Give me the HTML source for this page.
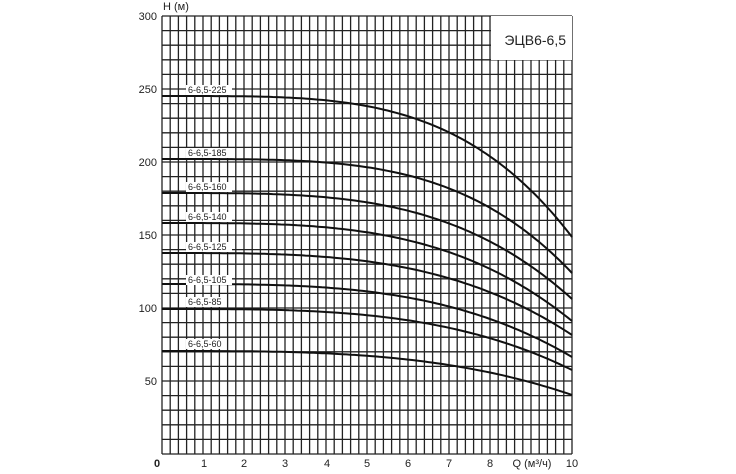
<!DOCTYPE html>
<html><head><meta charset="utf-8"><style>
html,body{margin:0;padding:0;background:#fff;}
svg{display:block;font-family:"Liberation Sans",sans-serif;}
</style></head><body>
<svg id="s" width="736" height="474" viewBox="0 0 736 474" xmlns="http://www.w3.org/2000/svg">
<rect width="736" height="474" fill="#fff"/>
<g id="grid" stroke="#222" stroke-width="1.3"></g>
<rect x="491" y="16" width="81" height="44" fill="#fff"/>
<text x="566" y="45" font-size="14" text-anchor="end" fill="#222">ЭЦВ6-6,5</text>
<g id="curves" fill="none" stroke="#111" stroke-width="2"></g>
<g id="labels" font-size="9" fill="#222"></g>
<g font-size="11" fill="#222" text-anchor="end">
<text x="157" y="20">300</text><text x="157" y="93">250</text><text x="157" y="166">200</text>
<text x="157" y="239">150</text><text x="157" y="312">100</text><text x="157" y="385">50</text>
</g>
<text x="163" y="10" font-size="11" fill="#222">H (м)</text>
<g font-size="11" fill="#222" text-anchor="middle">
<text x="157" y="467" font-weight="bold">0</text><text x="204" y="467">1</text><text x="244" y="467">2</text>
<text x="285" y="467">3</text><text x="327" y="467">4</text><text x="367" y="467">5</text>
<text x="408" y="467">6</text><text x="449" y="467">7</text><text x="490" y="467">8</text>
<text x="532" y="467">Q (м³/ч)</text><text x="572" y="467">10</text>
</g>
</svg>
<script>
var NS="http://www.w3.org/2000/svg";
var g=document.getElementById('grid');
function ln(x1,y1,x2,y2){var l=document.createElementNS(NS,'line');l.setAttribute('x1',x1);l.setAttribute('y1',y1);l.setAttribute('x2',x2);l.setAttribute('y2',y2);g.appendChild(l);}
var L=162,R=572,T=16,B=454;
for(var i=0;i<=50;i++){var x=L+(R-L)*i/50;ln(x,T,x,B);}
for(var j=0;j<=30;j++){var y=T+(B-T)*j/30;ln(L,y,R,y);}
function px(q){return L+q*(R-L)/10;}
// [startY, endY, label, labelY, exponent]
var c=[[96,237,'225',90,3.8],[159,273,'185',153,3.8],[193,299,'160',187,3.5],[223,321,'140',217,3.4],[253,335,'125',247,3.3],[284,357,'105',280,3.3],[309,370,'85',302,3.3],[351,395,'60',344,3.2]];
var cg=document.getElementById('curves'),lg=document.getElementById('labels');
c.forEach(function(k){
 var pts=[];for(var q=0;q<=10.001;q+=0.1){var y=k[0]+(k[1]-k[0])*Math.pow(q/10,k[4]);pts.push(px(q).toFixed(1)+','+y.toFixed(1));}
 var p=document.createElementNS(NS,'polyline');p.setAttribute('points',pts.join(' '));cg.appendChild(p);
 var r=document.createElementNS(NS,'rect');r.setAttribute('x',186);r.setAttribute('y',k[3]-5);r.setAttribute('width',k[2].length==3?46:40);r.setAttribute('height',10);r.setAttribute('fill','#fff');lg.appendChild(r);
 var t=document.createElementNS(NS,'text');t.setAttribute('x',188);t.setAttribute('y',k[3]+3);t.textContent='6-6,5-'+k[2];lg.appendChild(t);
});
</script>
</body></html>
